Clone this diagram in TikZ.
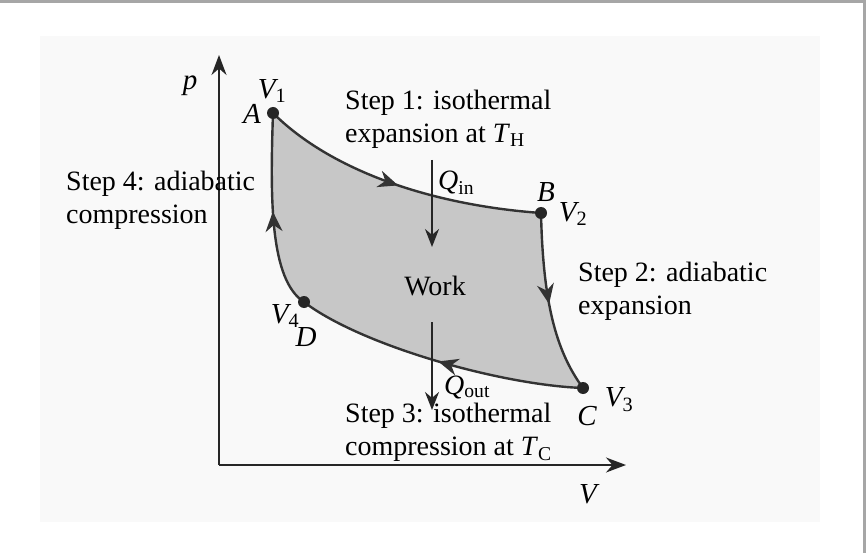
\documentclass[tikz,border=0pt]{standalone}
\usepackage{fontspec}
\setmainfont{Liberation Serif}
\usetikzlibrary{arrows.meta,decorations.markings}
\begin{document}
\begin{tikzpicture}[x=1pt,y=-1pt,
  txt/.style={font=\fontsize{28}{33}\selectfont,inner sep=0pt,align=left},
  lbl/.style={font=\fontsize{29}{30}\selectfont,inner sep=0pt},
  pt/.style={circle,fill=black!85,minimum size=12pt,inner sep=0pt},
  cyc/.style={draw=black!80,line width=2.4pt,postaction={decorate},
    decoration={markings,mark=at position 0.5 with {\arrow{Stealth[length=20pt,width=17pt]}}}},
  heat/.style={draw=black!85,line width=1.8pt,-{Stealth[length=18pt,width=14pt]}},
  axis/.style={draw=black!85,line width=1.8pt,-{Stealth[length=20pt,width=15pt]}}]
\useasboundingbox (0,0) rectangle (866,553);
\fill[white] (0,0) rectangle (866,553);
\fill[black!2.5] (40,36) rectangle (820,522);
\draw[black!35,line width=3pt] (0,1.5) -- (864.5,1.5) -- (864.5,553);
\coordinate (O) at (219,465);
\coordinate (ptop) at (219,55);
\coordinate (vend) at (626,465);
\draw[axis] (O) -- (ptop);
\draw[axis] (O) -- (vend);
\coordinate (A) at (273,113);
\coordinate (B) at (541,213);
\coordinate (C) at (583,388);
\coordinate (D) at (304,302);
\fill[black!22] (A) .. controls (330,170) and (430,205) .. (B)
  .. controls (543,300) and (555,350) .. (C)
  .. controls (500,385) and (360,345) .. (D)
  .. controls (270,280) and (270,200) .. (A) -- cycle;
\draw[cyc] (A) .. controls (330,170) and (430,205) .. (B);
\draw[cyc] (B) .. controls (543,300) and (555,350) .. (C);
\draw[cyc] (C) .. controls (500,385) and (360,345) .. (D);
\draw[cyc] (D) .. controls (270,280) and (270,200) .. (A);
\node[pt] (nA) at (A) {};
\node[pt] (nB) at (B) {};
\node[pt] (nC) at (C) {};
\node[pt] (nD) at (D) {};
\coordinate (qi1) at (432,160); \coordinate (qi2) at (432,247);
\coordinate (qo1) at (432,322); \coordinate (qo2) at (432,410);
\draw[heat] (qi1) -- (qi2);
\draw[heat] (qo1) -- (qo2);
\node[txt] (work) at (435,286) {Work};
\node[lbl] (p) at (190,86) {\itshape p};
\node[lbl] (V) at (588,494) {\itshape V};
\node[lbl] (v1) at (272,91) {\itshape V\textsubscript{\upshape 1}};
\node[lbl] (v2) at (573,214) {\itshape V\textsubscript{\upshape 2}};
\node[lbl] (v3) at (619,400) {\itshape V\textsubscript{\upshape 3}};
\node[lbl] (v4) at (285,316) {\itshape V\textsubscript{\upshape 4}};
\node[lbl] (la) at (252,114) {\itshape A};
\node[lbl] (lb) at (546,192) {\itshape B};
\node[lbl] (lc) at (587,416) {\itshape C};
\node[lbl] (ld) at (306,337) {\itshape D};
\node[txt,anchor=west] (qin) at (438,183) {\itshape Q\textsubscript{\upshape in}};
\node[txt,anchor=west] (qout) at (444,387) {\itshape Q\textsubscript{\upshape out}};
\node[txt,anchor=north west] (s1) at (345,90) {Step 1: isothermal\\expansion at \textit{T}\textsubscript{H}};
\node[txt,anchor=north west] (s2) at (578,262) {Step 2: adiabatic\\expansion};
\node[txt,anchor=north west] (s3) at (345,403) {Step 3: isothermal\\compression at \textit{T}\textsubscript{C}};
\node[txt,anchor=north west] (s4) at (66,171) {Step 4: adiabatic\\compression};
\end{tikzpicture}
\end{document}
